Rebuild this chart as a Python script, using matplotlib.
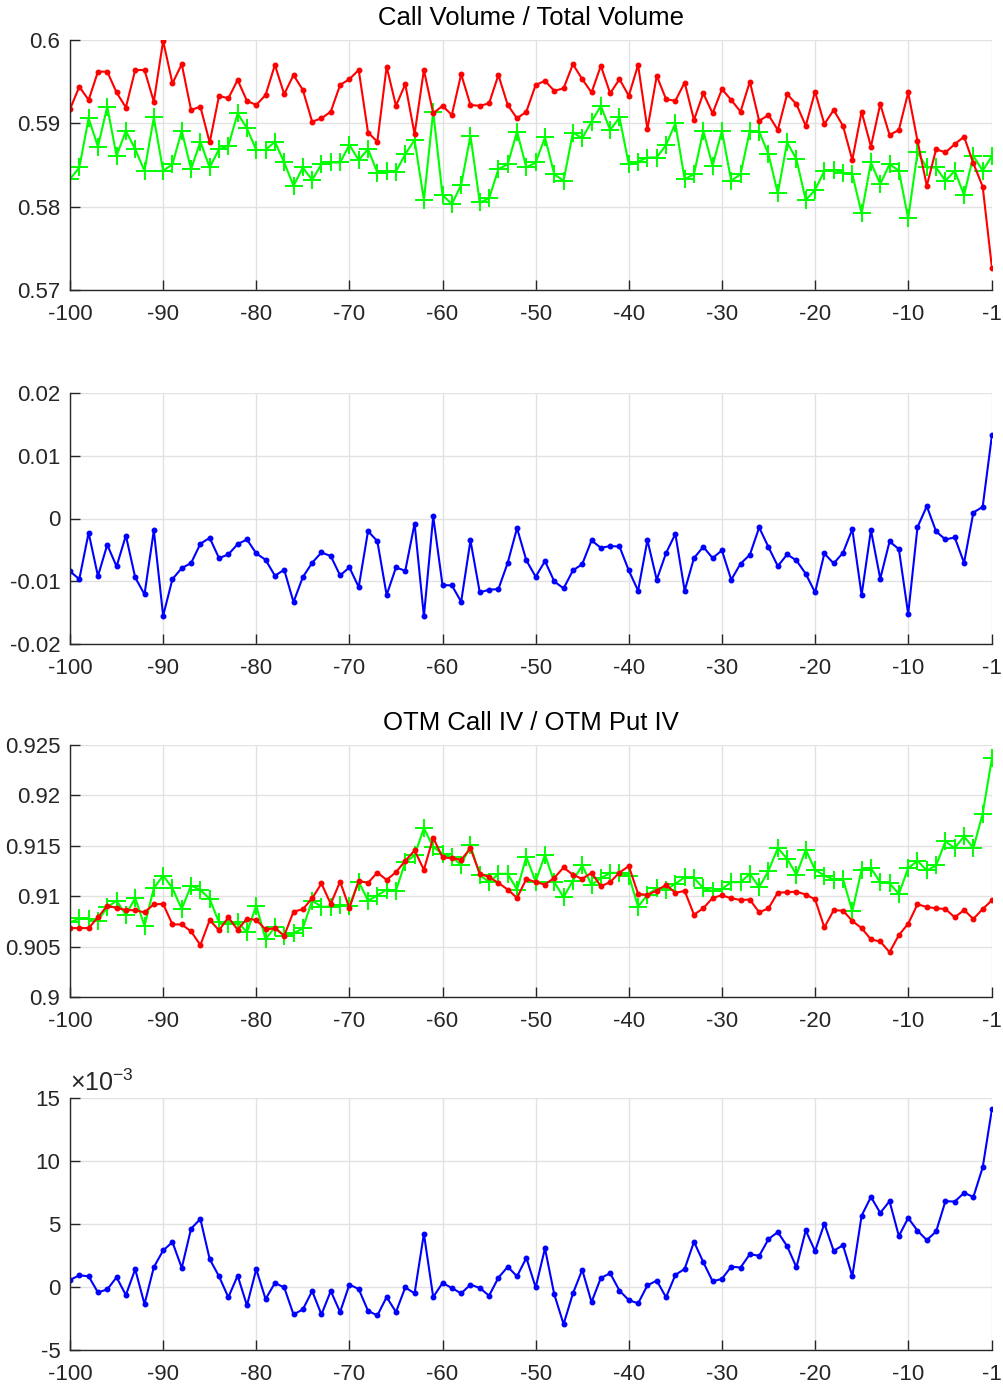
import numpy as np
import matplotlib
matplotlib.use("Agg")
import matplotlib.pyplot as plt
from matplotlib.ticker import FuncFormatter

plt.rcParams["font.family"] = ["Liberation Sans", "DejaVu Sans"]
plt.rcParams["axes.unicode_minus"] = False
plt.rcParams["mathtext.fontset"] = "custom"
plt.rcParams["mathtext.rm"] = "Liberation Sans"

days = list(range(-100, 0))
xtick_vals = [-100, -90, -80, -70, -60, -50, -40, -30, -20, -10, -1]

# call volume / total volume
call_vol_red = [
    0.5917, 0.5944, 0.5928, 0.5962, 0.5962, 0.5937, 0.5919, 0.5964, 0.5964, 0.5926,
    0.5999, 0.5948, 0.5971, 0.5916, 0.5920, 0.5877, 0.5933, 0.5930, 0.5952, 0.5927,
    0.5922, 0.5934, 0.5970, 0.5935, 0.5958, 0.5940, 0.5902, 0.5906, 0.5914, 0.5946,
    0.5953, 0.5964, 0.5889, 0.5878, 0.5968, 0.5921, 0.5947, 0.5887, 0.5964, 0.5912,
    0.5921, 0.5910, 0.5959, 0.5922, 0.5921, 0.5924, 0.5958, 0.5922, 0.5906, 0.5914,
    0.5946, 0.5951, 0.5939, 0.5942, 0.5971, 0.5953, 0.5937, 0.5969, 0.5936, 0.5953,
    0.5933, 0.5970, 0.5893, 0.5957, 0.5929, 0.5927, 0.5949, 0.5904, 0.5936, 0.5912,
    0.5941, 0.5928, 0.5914, 0.5950, 0.5903, 0.5910, 0.5892, 0.5935, 0.5923, 0.5897,
    0.5938, 0.5899, 0.5916, 0.5897, 0.5856, 0.5914, 0.5872, 0.5923, 0.5886, 0.5892,
    0.5937, 0.5879, 0.5825, 0.5869, 0.5865, 0.5875, 0.5884, 0.5852, 0.5824, 0.5726,
]
call_vol_green = [
    0.5833, 0.5847, 0.5906, 0.5872, 0.5920, 0.5861, 0.5891, 0.5869, 0.5843, 0.5907,
    0.5843, 0.5851, 0.5891, 0.5845, 0.5878, 0.5847, 0.5869, 0.5873, 0.5912, 0.5894,
    0.5868, 0.5868, 0.5878, 0.5853, 0.5825, 0.5847, 0.5832, 0.5851, 0.5853, 0.5853,
    0.5874, 0.5856, 0.5869, 0.5841, 0.5843, 0.5842, 0.5863, 0.5880, 0.5808, 0.5914,
    0.5814, 0.5803, 0.5826, 0.5885, 0.5805, 0.5810, 0.5845, 0.5851, 0.5890, 0.5847,
    0.5853, 0.5883, 0.5839, 0.5831, 0.5889, 0.5882, 0.5902, 0.5921, 0.5892, 0.5907,
    0.5851, 0.5854, 0.5859, 0.5859, 0.5874, 0.5900, 0.5833, 0.5839, 0.5891, 0.5849,
    0.5891, 0.5831, 0.5839, 0.5891, 0.5890, 0.5863, 0.5816, 0.5877, 0.5857, 0.5808,
    0.5820, 0.5843, 0.5844, 0.5841, 0.5839, 0.5792, 0.5853, 0.5827, 0.5851, 0.5843,
    0.5786, 0.5865, 0.5847, 0.5847, 0.5831, 0.5843, 0.5814, 0.5861, 0.5843, 0.5861,
]
call_vol_diff = [
    -0.00843, -0.00966, -0.00228, -0.00918, -0.00419, -0.00764, -0.00271, -0.00939, -0.01210, -0.00191,
    -0.01549, -0.00966, -0.00790, -0.00711, -0.00403, -0.00308, -0.00631, -0.00573, -0.00408, -0.00334,
    -0.00557, -0.00658, -0.00912, -0.00817, -0.01332, -0.00934, -0.00706, -0.00541, -0.00599, -0.00907,
    -0.00780, -0.01093, -0.00202, -0.00361, -0.01220, -0.00780, -0.00833, -0.00080, -0.01560, 0.00032,
    -0.01061, -0.01066, -0.01326, -0.00350, -0.01178, -0.01135, -0.01125, -0.00706, -0.00154, -0.00668,
    -0.00928, -0.00679, -0.01003, -0.01114, -0.00828, -0.00727, -0.00350, -0.00467, -0.00440, -0.00446,
    -0.00828, -0.01151, -0.00345, -0.00976, -0.00552, -0.00244, -0.01151, -0.00631, -0.00451, -0.00631,
    -0.00509, -0.00976, -0.00721, -0.00578, -0.00143, -0.00456, -0.00759, -0.00573, -0.00668, -0.00881,
    -0.01178, -0.00557, -0.00716, -0.00546, -0.00170, -0.01220, -0.00186, -0.00960, -0.00366, -0.00488,
    -0.01523, -0.00138, 0.00196, -0.00207, -0.00334, -0.00302, -0.00706, 0.00095, 0.00186, 0.01337,
]

# OTM call IV / OTM put IV
iv_red = [
    0.90684, 0.90684, 0.90684, 0.90790, 0.90906, 0.90883, 0.90863, 0.90860, 0.90840, 0.90920,
    0.90923, 0.90720, 0.90720, 0.90651, 0.90515, 0.90764, 0.90661, 0.90790, 0.90667, 0.90777,
    0.90764, 0.90671, 0.90681, 0.90608, 0.90847, 0.90870, 0.90979, 0.91126, 0.90923, 0.91145,
    0.90883, 0.91152, 0.91132, 0.91235, 0.91162, 0.91238, 0.91351, 0.91454, 0.91262, 0.91580,
    0.91384, 0.91378, 0.91361, 0.91474, 0.91225, 0.91189, 0.91132, 0.91066, 0.90983, 0.91172,
    0.91139, 0.91116, 0.91182, 0.91285, 0.91212, 0.91172, 0.91232, 0.91099, 0.91139, 0.91235,
    0.91298, 0.91023, 0.91013, 0.91056, 0.91112, 0.91033, 0.91053, 0.90817, 0.90880, 0.90983,
    0.91009, 0.90979, 0.90963, 0.90966, 0.90840, 0.90880, 0.91036, 0.91039, 0.91046, 0.91016,
    0.90969, 0.90691, 0.90860, 0.90857, 0.90754, 0.90684, 0.90571, 0.90551, 0.90445, 0.90614,
    0.90727, 0.90920, 0.90893, 0.90880, 0.90873, 0.90790, 0.90863, 0.90774, 0.90873, 0.90960,
]
iv_green = [
    0.90740, 0.90780, 0.90774, 0.90757, 0.90890, 0.90956, 0.90813, 0.90983, 0.90707, 0.91079,
    0.91205, 0.91079, 0.90873, 0.91106, 0.91062, 0.90973, 0.90740, 0.90724, 0.90747, 0.90641,
    0.90906, 0.90574, 0.90691, 0.90608, 0.90631, 0.90681, 0.90956, 0.90896, 0.90896, 0.90913,
    0.90906, 0.91145, 0.90956, 0.91006, 0.91066, 0.91056, 0.91338, 0.91404, 0.91677, 0.91487,
    0.91421, 0.91388, 0.91311, 0.91504, 0.91212, 0.91139, 0.91222, 0.91222, 0.91066, 0.91388,
    0.91145, 0.91411, 0.91139, 0.90989, 0.91155, 0.91305, 0.91112, 0.91179, 0.91232, 0.91232,
    0.91205, 0.90896, 0.91013, 0.91082, 0.91066, 0.91122, 0.91189, 0.91182, 0.91079, 0.91049,
    0.91072, 0.91139, 0.91139, 0.91222, 0.91089, 0.91252, 0.91477, 0.91371, 0.91212, 0.91461,
    0.91262, 0.91205, 0.91165, 0.91172, 0.90850, 0.91262, 0.91278, 0.91139, 0.91129, 0.91023,
    0.91278, 0.91351, 0.91255, 0.91305, 0.91544, 0.91477, 0.91594, 0.91477, 0.91819, 0.92374,
]
# in units of 1e-3
iv_diff = [
    0.56, 0.93, 0.85, -0.43, -0.19, 0.77, -0.64, 1.41, -1.36, 1.57,
    2.90, 3.56, 1.52, 4.63, 5.40, 2.21, 0.85, -0.82, 0.90, -1.46,
    1.41, -0.96, 0.32, -0.03, -2.18, -1.78, -0.32, -2.18, -0.32, -1.99,
    0.19, -0.16, -1.89, -2.26, -0.80, -1.99, -0.03, -0.51, 4.23, -0.80,
    0.32, -0.08, -0.51, 0.19, -0.08, -0.69, 0.74, 1.60, 0.85, 2.31,
    -0.03, 3.06, -0.59, -2.95, -0.51, 1.36, -1.20, 0.72, 1.09, -0.29,
    -1.04, -1.30, 0.13, 0.51, -0.82, 0.96, 1.44, 3.59, 1.97, 0.45,
    0.64, 1.62, 1.54, 2.61, 2.47, 3.80, 4.36, 3.24, 1.57, 4.49,
    2.85, 5.03, 2.87, 3.32, 0.85, 5.66, 7.15, 5.88, 6.81, 4.04,
    5.48, 4.47, 3.72, 4.41, 6.81, 6.78, 7.47, 7.15, 9.49, 14.15,
]

panel_ylims = [(0.57, 0.6), (-0.02, 0.02), (0.9, 0.925), (-5, 15)]
panel_yticks = [
    [0.57, 0.58, 0.59, 0.6],
    [-0.02, -0.01, 0, 0.01, 0.02],
    [0.9, 0.905, 0.91, 0.915, 0.92, 0.925],
    [-5, 0, 5, 10, 15],
]

W, H = 1004, 1387
fig = plt.figure(figsize=(W / 100, H / 100), dpi=100)

left, width = 70 / W, 922 / W
tops = [40, 393, 745, 1098]
bottoms = [290, 644, 997, 1350]
axes = []
for t, b in zip(tops, bottoms):
    axes.append(fig.add_axes([left, 1 - b / H, width, (b - t) / H]))

axis_col = "#262626"


def style_axes(ax, ylim, yticks):
    ax.set_xlim(-100, -1)
    ax.set_ylim(*ylim)
    ax.set_xticks(xtick_vals)
    ax.set_yticks(yticks)
    ax.yaxis.set_major_formatter(FuncFormatter(lambda v, p: f"{v:g}"))
    ax.xaxis.set_major_formatter(FuncFormatter(lambda v, p: f"{v:g}"))
    ax.grid(True, color="#e2e2e2", lw=1)
    ax.set_axisbelow(True)
    for s in ["top", "right"]:
        ax.spines[s].set_visible(False)
    for s in ["left", "bottom"]:
        ax.spines[s].set_color(axis_col)
        ax.spines[s].set_linewidth(1.0)
    ax.tick_params(direction="in", length=7, width=1, color=axis_col,
                   labelcolor="#262626", labelsize=16)
    ax.tick_params(axis="y", pad=7)
    ax.tick_params(axis="x", pad=10)


lw = 1.5
green = (0, 1, 0)
red = (1, 0, 0)
blue = (0, 0, 1)

ax = axes[0]
ax.plot(days, call_vol_green, marker="+", color=green, lw=lw, ms=13, mew=1.4)
ax.plot(days, call_vol_red, marker=".", color=red, lw=lw, ms=6.5)
style_axes(ax, panel_ylims[0], panel_yticks[0])
ax.set_title("Call Volume / Total Volume", fontsize=18.5, pad=10.5, color="black")

ax = axes[1]
ax.plot(days, call_vol_diff, marker=".", color=blue, lw=lw, ms=6.5)
style_axes(ax, panel_ylims[1], panel_yticks[1])

ax = axes[2]
ax.plot(days, iv_green, marker="+", color=green, lw=lw, ms=13, mew=1.4)
ax.plot(days, iv_red, marker=".", color=red, lw=lw, ms=6.5)
style_axes(ax, panel_ylims[2], panel_yticks[2])
ax.set_title("OTM Call IV / OTM Put IV", fontsize=18.5, pad=10.5, color="black")

ax = axes[3]
ax.plot(days, iv_diff, marker=".", color=blue, lw=lw, ms=6.5)
style_axes(ax, panel_ylims[3], panel_yticks[3])
ax.text(0.0, 1.006, r"$\times\mathregular{10^{-3}}$", transform=ax.transAxes,
        fontsize=18, ha="left", va="bottom", color="#262626")

fig.savefig("out.png", dpi=100)
